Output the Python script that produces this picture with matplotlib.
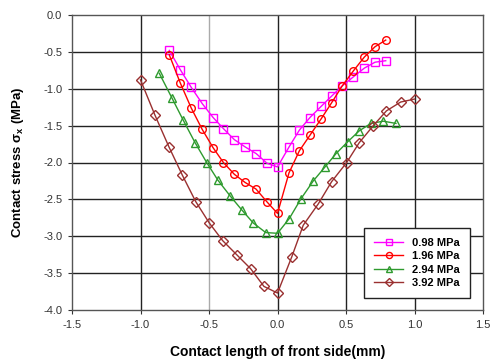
import matplotlib
matplotlib.use("Agg")
import matplotlib.pyplot as plt

plt.rcParams['font.family'] = ['Liberation Sans', 'DejaVu Sans']

# 0.98 MPa
x_098 = [-0.79, -0.71, -0.63, -0.55, -0.47, -0.395, -0.315, -0.235, -0.155, -0.077, 0.0,
         0.084, 0.16, 0.237, 0.318, 0.395, 0.473, 0.553, 0.634, 0.712, 0.79]
y_098 = [-0.48, -0.74, -0.98, -1.20, -1.39, -1.54, -1.69, -1.79, -1.88, -2.01, -2.06,
         -1.79, -1.56, -1.39, -1.24, -1.10, -0.96, -0.84, -0.72, -0.64, -0.62]

# 1.96 MPa
x_196 = [-0.79, -0.71, -0.63, -0.55, -0.47, -0.395, -0.315, -0.237, -0.157, -0.074, 0.0,
         0.084, 0.16, 0.237, 0.318, 0.395, 0.473, 0.553, 0.634, 0.712, 0.79]
y_196 = [-0.54, -0.92, -1.26, -1.55, -1.80, -2.00, -2.16, -2.27, -2.36, -2.54, -2.69,
         -2.14, -1.84, -1.63, -1.41, -1.19, -0.96, -0.76, -0.57, -0.43, -0.34]

# 2.94 MPa
x_294 = [-0.863, -0.772, -0.687, -0.602, -0.517, -0.435, -0.347, -0.262, -0.177, -0.086, 0.0,
         0.086, 0.172, 0.261, 0.347, 0.427, 0.512, 0.597, 0.682, 0.772, 0.865]
y_294 = [-0.79, -1.12, -1.43, -1.73, -2.00, -2.24, -2.45, -2.64, -2.82, -2.95, -2.96,
         -2.76, -2.49, -2.25, -2.06, -1.88, -1.72, -1.57, -1.47, -1.44, -1.47]

# 3.92 MPa
x_392 = [-1.0, -0.894, -0.792, -0.695, -0.597, -0.498, -0.4, -0.298, -0.196, -0.099, 0.0,
         0.104, 0.188, 0.298, 0.395, 0.505, 0.597, 0.695, 0.795, 0.899, 1.0]
y_392 = [-0.88, -1.36, -1.79, -2.17, -2.53, -2.82, -3.06, -3.25, -3.44, -3.68, -3.77,
         -3.28, -2.85, -2.56, -2.26, -2.00, -1.73, -1.51, -1.30, -1.18, -1.14]

series = [
    ("0.98 MPa", x_098, y_098, "#ff00ff", "s"),
    ("1.96 MPa", x_196, y_196, "#ff0000", "o"),
    ("2.94 MPa", x_294, y_294, "#2e9a2e", "^"),
    ("3.92 MPa", x_392, y_392, "#9a3030", "D"),
]

x_ticks = [-1.5, -1.0, -0.5, 0.0, 0.5, 1.0, 1.5]
y_ticks = [0.0, -0.5, -1.0, -1.5, -2.0, -2.5, -3.0, -3.5, -4.0]

fig = plt.figure(figsize=(4.93, 3.62), dpi=100)
ax = fig.add_axes([72 / 493, 1 - 310 / 362, 411 / 493, 295 / 362])

for label, xs, ys, color, marker in series:
    ms = 5 if marker == "D" else 5.5
    ax.plot(xs, ys, color=color, lw=1.0, marker=marker, ms=ms,
            markerfacecolor="none", markeredgecolor=color, markeredgewidth=1.0,
            label=label, zorder=3)

ax.set_xlim(-1.5, 1.5)
ax.set_ylim(-4.0, 0.0)
ax.set_xticks(x_ticks)
ax.set_yticks(y_ticks)
ax.set_xticklabels(["{:.1f}".format(v) for v in x_ticks])
ax.set_yticklabels(["{:.1f}".format(v) for v in y_ticks])
ax.tick_params(labelsize=8, colors="#333333", length=3, width=0.8, pad=4)

for v in x_ticks[1:-1]:
    ax.axvline(v, color="#aaaaaa" if v == -0.5 else "#222222", lw=1.0, zorder=1)
for v in y_ticks[1:-1]:
    ax.axhline(v, color="#222222", lw=1.0, zorder=1)
for sp in ax.spines.values():
    sp.set_color("#555555")
    sp.set_linewidth(1.0)

ax.set_xlabel("Contact length of front side(mm)", fontsize=10, fontweight="bold", labelpad=11)
ax.set_ylabel("Contact stress σ$_\\mathregular{x}$ (MPa)", fontsize=9.5, fontweight="bold", labelpad=12)

leg = ax.legend(loc="lower right", bbox_to_anchor=((470 - 72) / 411, (310 - 298) / 295),
                bbox_transform=ax.transAxes, fontsize=8, frameon=True, fancybox=False,
                edgecolor="#222222", borderaxespad=0.0, borderpad=0.9, handlelength=2.6,
                labelspacing=0.3, markerscale=0.8, framealpha=1.0)
leg.get_frame().set_linewidth(1.0)
for t in leg.get_texts():
    t.set_fontweight("bold")

fig.savefig("out.png", dpi=100, facecolor="white")
